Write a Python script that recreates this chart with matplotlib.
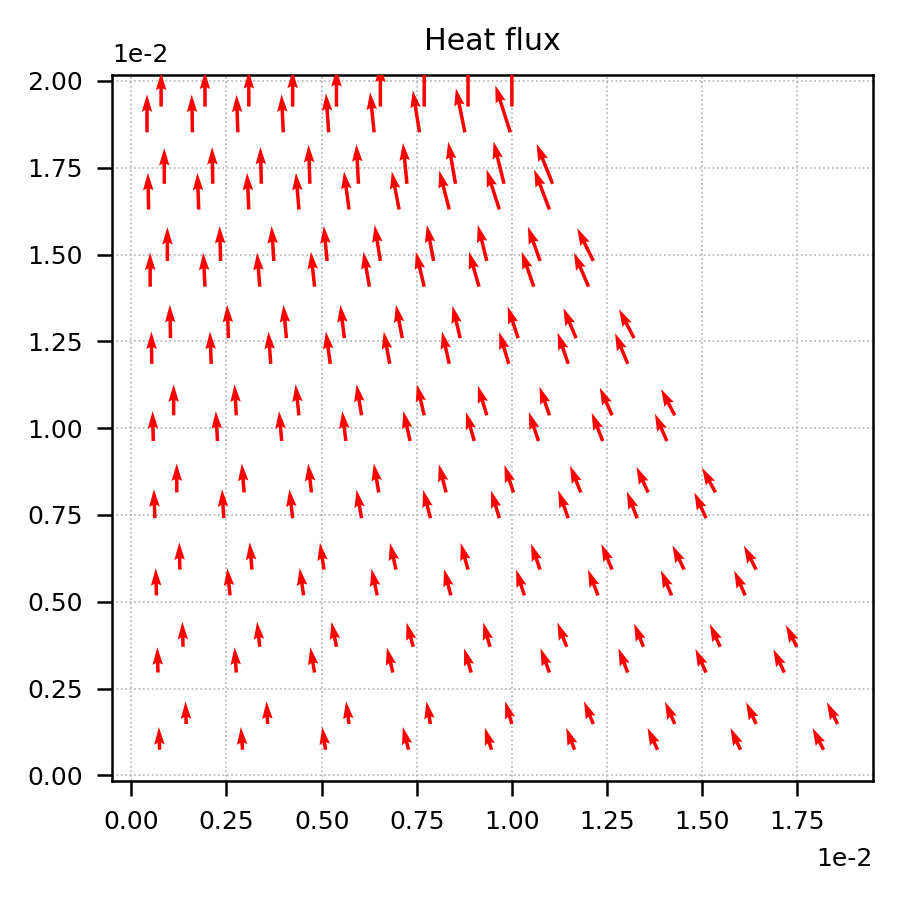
import numpy as np
import matplotlib
matplotlib.use("Agg")
import matplotlib.pyplot as plt

plt.rcParams['font.size'] = 6
plt.rcParams['axes.unicode_minus'] = False

# trapezoid plate: bottom 2 cm, top 1 cm, height 2 cm, 9x9 quads cut into triangles
n_cols = 9
n_rows = 9
bottom_width = 0.02
top_width = 0.01
height = 0.02

# heat flux, one list per row (bottom row first), one value per column
# lower triangle of each quad
qx_lower = [
    [-0.7, -1.7, -3.3, -5.7, -6.7, -8.3, -10.0, -10.0, -11.0],
    [-0.7, -1.7, -4.3, -6.0, -7.0, -9.0, -9.3, -10.7, -11.0],
    [-0.7, -2.7, -4.0, -5.7, -6.7, -8.3, -10.0, -10.7, -11.0],
    [-1.0, -1.7, -3.3, -5.0, -7.3, -8.3, -10.0, -10.3, -11.7],
    [-0.7, -1.7, -2.7, -3.7, -6.7, -8.3, -9.7, -11.0, -12.0],
    [-0.3, -1.3, -2.3, -4.3, -6.0, -7.3, -9.5, -10.7, -12.7],
    [0.0, -1.7, -2.7, -3.7, -6.0, -8.3, -10.0, -12.2, -14.7],
    [-0.7, -1.3, -1.7, -3.0, -5.0, -7.3, -10.0, -12.8, -15.3],
    [0.0, -0.7, -1.3, -1.7, -2.7, -4.0, -6.7, -9.0, -15.0],
]
qy_lower = [
    [22.7, 22.7, 22.7, 22.7, 22.0, 22.0, 22.0, 21.7, 21.7],
    [25.3, 25.3, 25.3, 25.0, 24.3, 24.3, 24.3, 23.7, 23.3],
    [27.3, 27.3, 27.3, 26.7, 26.3, 25.7, 25.7, 25.0, 24.7],
    [29.0, 29.0, 29.0, 28.3, 28.3, 27.7, 27.7, 26.7, 25.7],
    [30.0, 30.0, 30.0, 30.0, 30.0, 29.0, 29.0, 28.3, 27.3],
    [32.3, 32.3, 32.3, 32.3, 32.3, 32.3, 32.0, 31.3, 30.7],
    [34.0, 34.0, 34.0, 35.0, 35.0, 35.0, 35.0, 35.0, 34.0],
    [36.7, 36.7, 36.7, 36.7, 38.0, 38.0, 39.0, 40.0, 40.0],
    [38.0, 37.7, 37.7, 38.0, 39.0, 40.0, 42.0, 44.0, 47.0],
]
# upper triangle of each quad
qx_upper = [
    [-0.7, -1.0, -3.0, -4.0, -6.7, -9.3, -9.7, -10.0, -10.7],
    [-0.7, -2.7, -5.0, -6.7, -6.7, -9.3, -9.3, -10.3, -11.0],
    [-0.7, -2.3, -4.0, -6.0, -7.3, -9.0, -10.7, -11.7, -12.3],
    [0.0, -2.3, -3.3, -5.0, -7.3, -9.0, -10.7, -11.7, -13.3],
    [0.0, -1.7, -3.3, -5.0, -7.3, -9.0, -10.0, -12.3, -13.7],
    [-0.7, -1.3, -3.0, -4.0, -6.3, -7.7, -10.5, -12.7, -15.0],
    [0.0, -1.0, -2.3, -3.3, -5.7, -6.7, -9.0, -12.2, -16.0],
    [0.0, -0.7, -1.0, -1.3, -2.0, -4.0, -7.3, -10.5, -16.0],
    [0.0, 0.0, 0.0, 0.0, 0.0, 0.0, 0.0, 0.0, 0.0],
]
qy_upper = [
    [22.7, 22.7, 22.7, 22.7, 22.7, 22.7, 22.3, 21.7, 21.7],
    [25.0, 25.0, 25.0, 24.3, 24.3, 24.3, 23.3, 22.7, 21.7],
    [27.3, 27.3, 26.7, 26.7, 26.7, 26.0, 25.7, 24.3, 24.0],
    [29.0, 29.0, 29.0, 29.0, 28.3, 27.5, 26.7, 25.7, 24.7],
    [31.0, 31.0, 31.0, 31.0, 31.0, 29.7, 28.7, 27.7, 26.3],
    [33.3, 33.3, 33.3, 33.3, 33.3, 32.3, 31.7, 30.0, 29.0],
    [34.0, 35.0, 35.0, 35.0, 36.0, 36.0, 36.0, 34.3, 32.7],
    [35.7, 36.7, 37.0, 39.0, 39.7, 40.7, 42.0, 42.3, 40.0],
    [34.0, 35.0, 35.5, 36.0, 37.5, 42.0, 48.0, 52.0, 58.0],
]

# mesh nodes
ys = np.linspace(0, height, n_rows + 1)
widths = bottom_width + (top_width - bottom_width) * ys / height
node_x = np.array([np.linspace(0, w, n_cols + 1) for w in widths])
node_y = np.repeat(ys[:, None], n_cols + 1, axis=1)

cx, cy, qx, qy = [], [], [], []
for j in range(n_rows):
    for i in range(n_cols):
        # lower triangle: (i,j) (i+1,j) (i,j+1)
        tri = [(j, i), (j, i + 1), (j + 1, i)]
        cx.append(np.mean([node_x[a, b] for a, b in tri]))
        cy.append(np.mean([node_y[a, b] for a, b in tri]))
        qx.append(qx_lower[j][i])
        qy.append(qy_lower[j][i])
        # upper triangle: (i+1,j) (i+1,j+1) (i,j+1)
        tri = [(j, i + 1), (j + 1, i + 1), (j + 1, i)]
        cx.append(np.mean([node_x[a, b] for a, b in tri]))
        cy.append(np.mean([node_y[a, b] for a, b in tri]))
        qx.append(qx_upper[j][i])
        qy.append(qy_upper[j][i])

fig = plt.figure(figsize=(3, 3), dpi=300)
ax = fig.add_axes([0.1244, 0.1322, 0.8456, 0.7845])

ax.quiver(cx, cy, qx, qy, color='red', angles='uv', pivot='tail',
          scale=300, scale_units='inches', width=0.0046, zorder=3)

ax.set_xlim(-0.051e-2, 1.949e-2)
ax.set_ylim(-0.016e-2, 2.017e-2)
ax.set_xticks(np.arange(0, 1.76e-2, 0.25e-2))
ax.set_yticks(np.arange(0, 2.01e-2, 0.25e-2))
ax.ticklabel_format(style='sci', scilimits=(0, 0), axis='both')
ax.grid(True, linestyle=':', linewidth=0.4, color='#b0b0b0')
ax.set_axisbelow(True)
for sp in ax.spines.values():
    sp.set_linewidth(0.6)
ax.tick_params(width=0.6, length=3.5)
ax.set_title("Heat flux")

fig.savefig("out.png", dpi=300)
